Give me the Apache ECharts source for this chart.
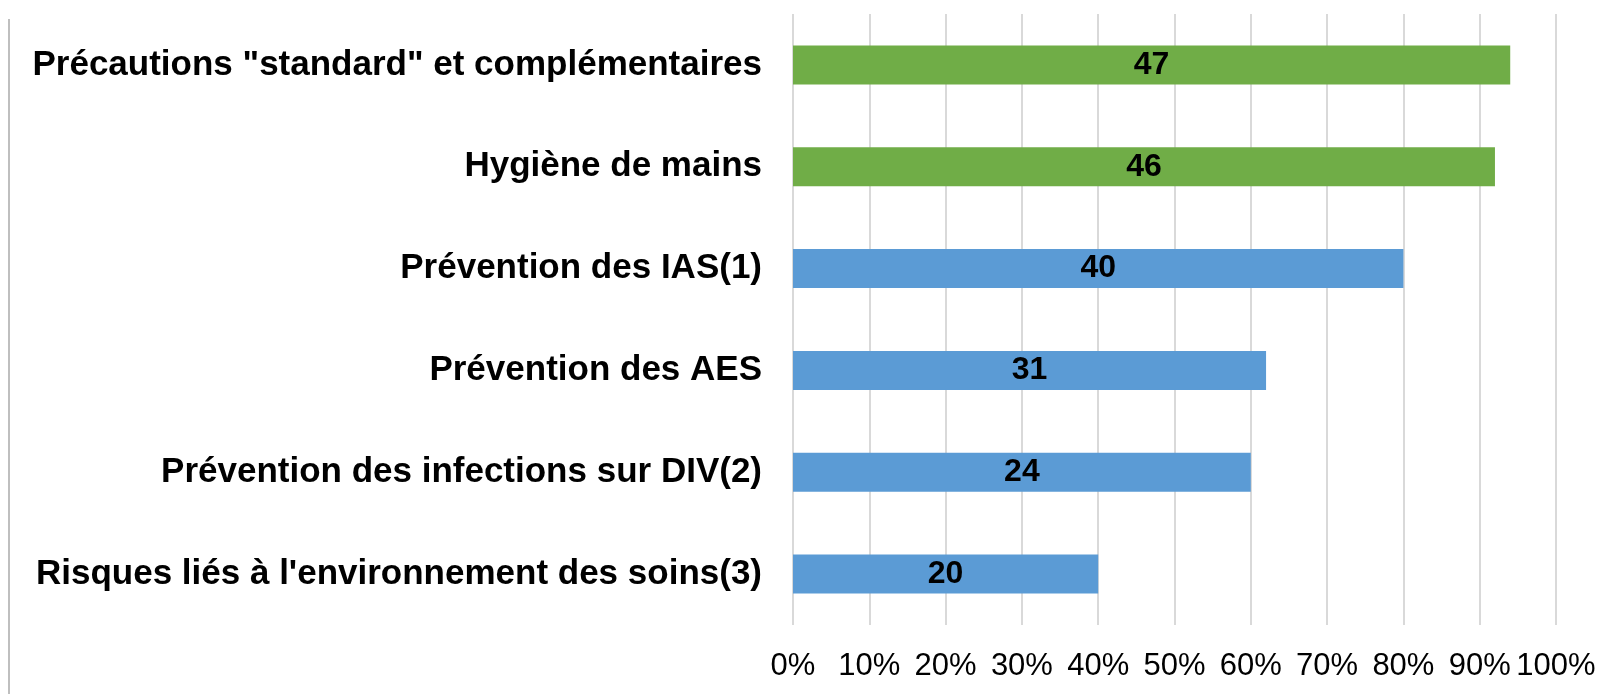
<!DOCTYPE html>
<html>
<head>
<meta charset="utf-8">
<title>Formations hygiène</title>
<script src="https://cdn.jsdelivr.net/npm/echarts@6/dist/echarts.min.js"></script>
<style>
  html, body { margin: 0; padding: 0; background: #fff; }
  #chart { width: 1612px; height: 694px; }
</style>
</head>
<body>
<div id="chart"></div>
<script>
// categories, top to bottom
const categories = [
  'Précautions "standard" et complémentaires',
  'Hygiène de mains',
  'Prévention des IAS(1)',
  'Prévention des AES',
  'Prévention des infections sur DIV(2)',
  "Risques liés à l'environnement des soins(3)"
]
// bar length in percent
const percents = [94, 92, 80, 62, 60, 40]
// numbers printed on bars
const counts = [47, 46, 40, 31, 24, 20]
// colour group per bar (first two highlighted)
const groups = ['green', 'green', 'blue', 'blue', 'blue', 'blue']
const xTicks = [0, 10, 20, 30, 40, 50, 60, 70, 80, 90, 100]

const colorMap = { green: '#70AD47', blue: '#5B9BD5' }
const fontFamily = '"Liberation Sans", Arial, sans-serif'

const chart = echarts.init(document.getElementById('chart'))

const option = {
  animation: false,
  textStyle: { fontFamily: fontFamily },
  grid: { left: 793, right: 56, top: 14, bottom: 69, containLabel: false },
  xAxis: {
    type: 'value',
    min: xTicks[0],
    max: xTicks[xTicks.length - 1],
    interval: 10,
    axisLine: { show: false },
    axisTick: { show: false },
    axisLabel: {
      formatter: '{value}%',
      color: '#000',
      fontSize: 31,
      margin: 26,
      fontFamily: fontFamily
    },
    splitLine: { show: true, lineStyle: { color: '#d9d9d9', width: 2 } }
  },
  yAxis: {
    type: 'category',
    inverse: true,
    data: categories,
    axisLine: { show: false },
    axisTick: { show: false },
    axisLabel: {
      color: '#000',
      fontSize: 35,
      fontWeight: 'bold',
      margin: 31,
      fontFamily: fontFamily
    }
  },
  series: [{
    type: 'bar',
    barWidth: 39,
    data: percents.map((v, i) => ({
      value: v,
      itemStyle: { color: colorMap[groups[i]] },
      label: { formatter: String(counts[i]) }
    })),
    label: {
      show: true,
      position: 'inside',
      color: '#000',
      fontSize: 32,
      fontWeight: 'bold',
      fontFamily: fontFamily
    }
  }],
  graphic: [{
    type: 'line',
    shape: { x1: 9, y1: 19, x2: 9, y2: 694 },
    style: { stroke: '#bfbfbf', lineWidth: 2 }
  }]
}

chart.setOption(option)
</script>
</body>
</html>
